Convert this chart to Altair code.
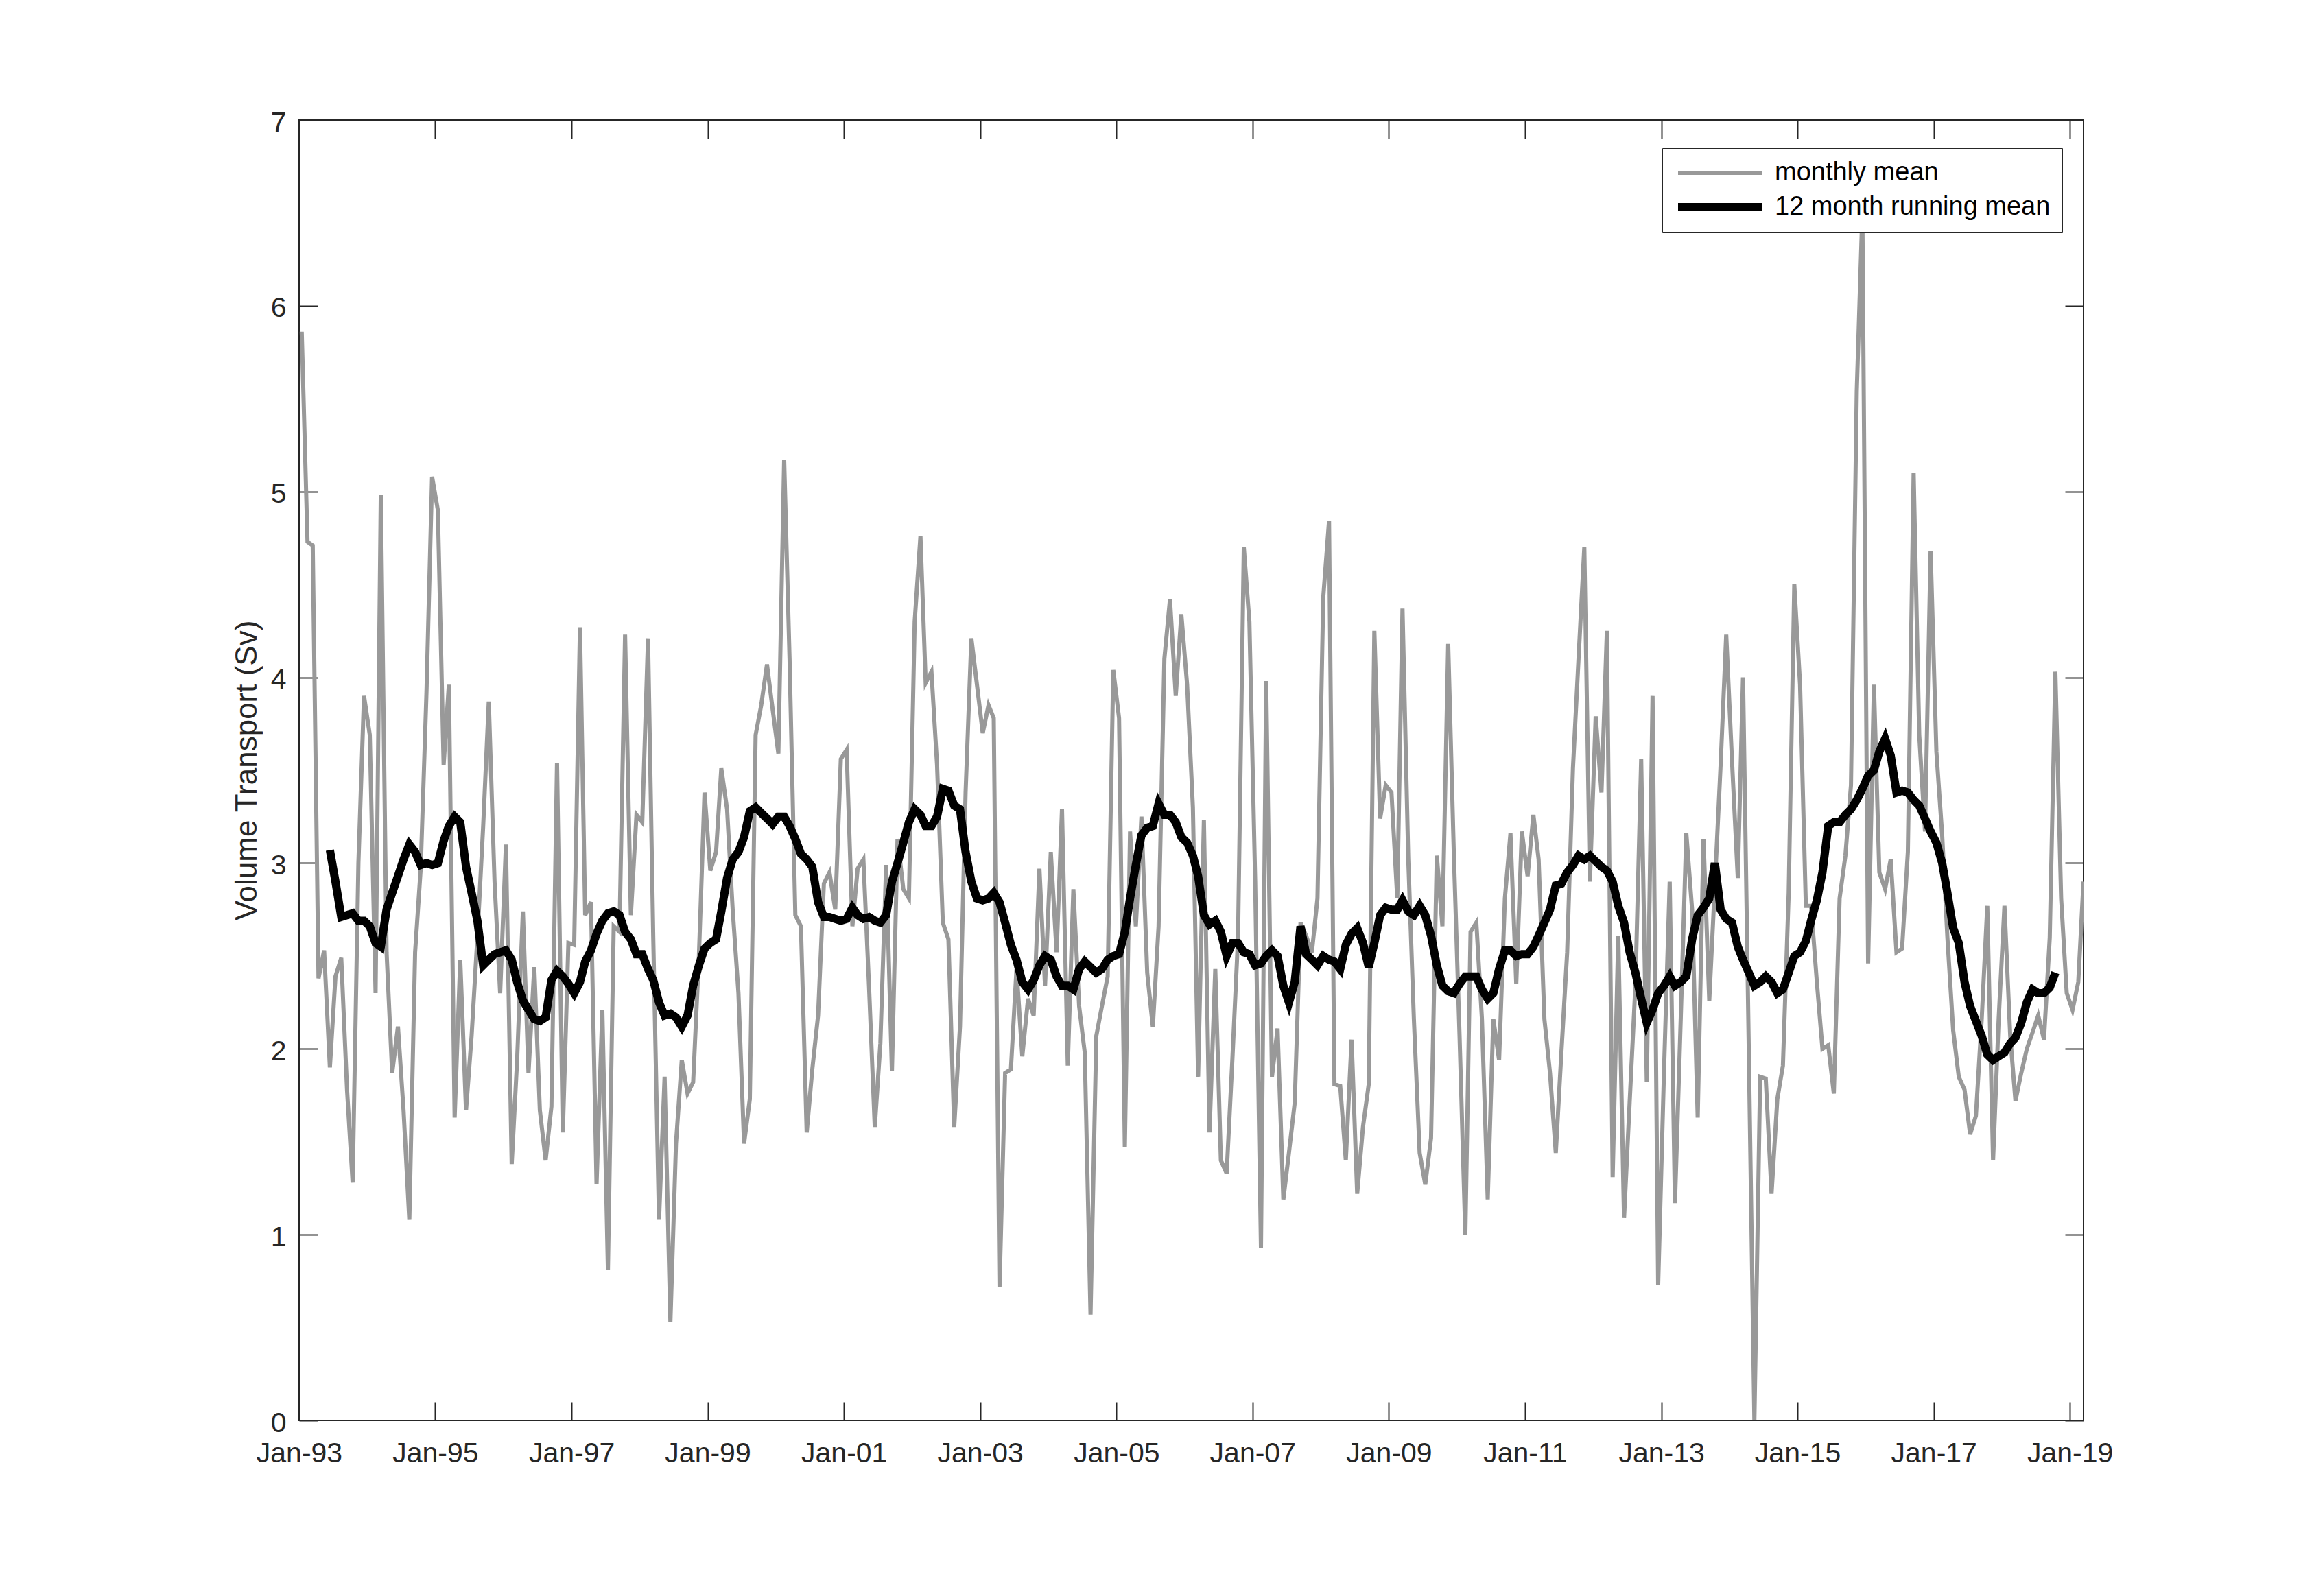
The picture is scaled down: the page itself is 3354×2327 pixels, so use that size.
import altair as alt
import pandas as pd

# ---- data (monthly values, Jan 1993 .. Mar 2019) ----
monthly_mean = [
    5.86, 4.73, 4.71, 2.38, 2.53, 1.90, 2.39, 2.49, 1.78, 1.28, 3.00, 3.90,
    3.69, 2.30, 4.98, 2.52, 1.87, 2.12, 1.67, 1.08, 2.52, 2.97, 3.92, 5.08,
    4.90, 3.53, 3.96, 1.63, 2.48, 1.67, 2.07, 2.60, 3.20, 3.87, 2.90, 2.30,
    3.10, 1.38, 1.94, 2.74, 1.87, 2.44, 1.67, 1.40, 1.69, 3.54, 1.55, 2.57,
    2.56, 4.27, 2.72, 2.79, 1.27, 2.21, 0.81, 2.66, 2.63, 4.23, 2.72, 3.26,
    3.22, 4.21, 2.60, 1.08, 1.85, 0.53, 1.49, 1.94, 1.76, 1.82, 2.50, 3.38,
    2.96, 3.06, 3.51, 3.29, 2.75, 2.30, 1.49, 1.73, 3.69, 3.85, 4.07, 3.83,
    3.59, 5.17, 4.10, 2.72, 2.66, 1.55, 1.89, 2.18, 2.89, 2.95, 2.75, 3.56,
    3.61, 2.66, 2.97, 3.02, 2.34, 1.58, 2.03, 2.99, 1.88, 3.13, 2.86, 2.81,
    4.30, 4.76, 3.97, 4.03, 3.53, 2.68, 2.59, 1.58, 2.12, 3.38, 4.21, 3.96,
    3.70, 3.85, 3.78, 0.72, 1.87, 1.89, 2.43, 1.96, 2.27, 2.18, 2.97, 2.34,
    3.06, 2.52, 3.29, 1.91, 2.86, 2.23, 1.98, 0.57, 2.07, 2.23, 2.39, 4.04,
    3.78, 1.47, 3.17, 2.66, 3.25, 2.41, 2.12, 2.66, 4.10, 4.42, 3.90, 4.34,
    3.96, 3.30, 1.85, 3.23, 1.55, 2.43, 1.40, 1.33, 1.95, 2.60, 4.70, 4.30,
    2.90, 0.93, 3.98, 1.85, 2.11, 1.19, 1.44, 1.71, 2.68, 2.61, 2.52, 2.81,
    4.43, 4.84, 1.81, 1.80, 1.40, 2.05, 1.22, 1.58, 1.81, 4.25, 3.24, 3.42,
    3.38, 2.81, 4.37, 3.02, 2.16, 1.44, 1.27, 1.52, 3.04, 2.66, 4.18, 3.06,
    2.07, 1.00, 2.63, 2.68, 2.16, 1.19, 2.16, 1.94, 2.81, 3.16, 2.35, 3.17,
    2.93, 3.26, 3.02, 2.16, 1.87, 1.44, 1.98, 2.52, 3.51, 4.10, 4.70, 2.90,
    3.79, 3.38, 4.25, 1.31, 2.61, 1.09, 1.71, 2.34, 3.56, 1.82, 3.90, 0.73,
    1.87, 2.90, 1.17, 2.16, 3.16, 2.75, 1.63, 3.13, 2.26, 2.88, 3.53, 4.23,
    3.55, 2.92, 4.00, 2.00, 0.00, 1.85, 1.84, 1.22, 1.73, 1.91, 2.84, 4.50,
    3.96, 2.77, 2.77, 2.36, 2.00, 2.02, 1.76, 2.81, 3.04, 3.42, 5.54, 6.50,
    2.46, 3.96, 2.95, 2.86, 3.02, 2.52, 2.54, 3.06, 5.10, 3.69, 3.17, 4.68,
    3.60, 3.15, 2.60, 2.10, 1.85, 1.78, 1.54, 1.64, 2.16, 2.77, 1.40, 2.16,
    2.77, 2.07, 1.72, 1.87, 2.00, 2.09, 2.18, 2.05, 2.60, 4.03, 2.81, 2.30,
    2.21, 2.36, 2.90,
]

# 12 month running mean, first value at month index 5 (Jun 1993)
running_start = 5
running_mean = [
    3.07, 2.90, 2.71, 2.72, 2.73, 2.69, 2.69,
    2.66, 2.57, 2.55, 2.75, 2.84, 2.93, 3.02, 3.10, 3.06, 2.99, 3.00, 2.99,
    3.00, 3.12, 3.20, 3.25, 3.22, 2.98, 2.84, 2.69, 2.45, 2.48, 2.51, 2.52,
    2.53, 2.48, 2.36, 2.26, 2.21, 2.16, 2.15, 2.17, 2.37, 2.42, 2.39, 2.35,
    2.30, 2.36, 2.47, 2.53, 2.62, 2.69, 2.73, 2.74, 2.72, 2.63, 2.59, 2.51,
    2.51, 2.43, 2.37, 2.25, 2.18, 2.19, 2.17, 2.12, 2.18, 2.34, 2.45, 2.54,
    2.57, 2.59, 2.74, 2.92, 3.02, 3.06, 3.14, 3.28, 3.30, 3.27, 3.24, 3.21,
    3.25, 3.25, 3.20, 3.13, 3.05, 3.02, 2.98, 2.79, 2.71, 2.71, 2.70, 2.69,
    2.70, 2.76, 2.72, 2.70, 2.71, 2.69, 2.68, 2.72, 2.90, 3.00, 3.11, 3.22,
    3.29, 3.26, 3.20, 3.20, 3.25, 3.40, 3.39, 3.31, 3.29, 3.06, 2.90, 2.81,
    2.80, 2.81, 2.84, 2.79, 2.68, 2.56, 2.48, 2.36, 2.32, 2.37, 2.45, 2.50,
    2.48, 2.39, 2.34, 2.34, 2.32, 2.43, 2.47, 2.44, 2.41, 2.43, 2.48, 2.50,
    2.51, 2.63, 2.81, 2.99, 3.15, 3.19, 3.20, 3.32, 3.26, 3.26, 3.22, 3.14,
    3.11, 3.04, 2.93, 2.72, 2.67, 2.69, 2.63, 2.50, 2.57, 2.57, 2.52, 2.51,
    2.45, 2.46, 2.50, 2.53, 2.50, 2.34, 2.25, 2.36, 2.66, 2.51, 2.48, 2.45,
    2.50, 2.48, 2.47, 2.43, 2.56, 2.62, 2.65, 2.57, 2.44, 2.57, 2.72, 2.76,
    2.75, 2.75, 2.80, 2.74, 2.72, 2.77, 2.72, 2.61, 2.45, 2.34, 2.31, 2.30,
    2.35, 2.39, 2.39, 2.39, 2.32, 2.27, 2.30, 2.43, 2.53, 2.53, 2.50, 2.51,
    2.51, 2.55, 2.61, 2.68, 2.75, 2.88, 2.89, 2.95, 2.99, 3.04, 3.02, 3.04,
    3.01, 2.98, 2.96, 2.90, 2.77, 2.68, 2.52, 2.41, 2.27, 2.14, 2.21, 2.30,
    2.34, 2.39, 2.34, 2.36, 2.39, 2.59, 2.72, 2.76, 2.81, 3.00, 2.75, 2.70,
    2.68, 2.55, 2.48, 2.41, 2.34, 2.36, 2.39, 2.36, 2.30, 2.32, 2.41, 2.50,
    2.52, 2.58, 2.69, 2.80, 2.95, 3.20, 3.22, 3.22, 3.26, 3.29, 3.34, 3.40,
    3.47, 3.50, 3.60, 3.67, 3.58, 3.38, 3.39, 3.38, 3.34, 3.31, 3.24, 3.17,
    3.11, 3.00, 2.84, 2.65, 2.57, 2.36, 2.23, 2.15, 2.07, 1.97, 1.94, 1.96,
    1.98, 2.03, 2.06, 2.14, 2.25, 2.32, 2.30, 2.30, 2.33, 2.41,
]

series_names = ["monthly mean", "12 month running mean"]
series_colors = ["#999999", "#000000"]
series_widths = [6, 12]
x_tick_years = list(range(1993, 2020, 2))
y_ticks = [0, 1, 2, 3, 4, 5, 6, 7]
y_title = "Volume Transport (Sv)"

FONT = "Liberation Sans"
AXC = "#262626"
TICK = 27

dates = (pd.date_range("1993-01-01", periods=len(monthly_mean), freq="MS")
         + pd.Timedelta(days=14)).strftime("%Y-%m-%d")

gray_df = pd.DataFrame({"date": list(dates), "value": monthly_mean,
                        "series": series_names[0]})
black_df = pd.DataFrame({"date": list(dates[running_start:running_start + len(running_mean)]),
                         "value": running_mean, "series": series_names[1]})

x_scale = alt.Scale(type="utc", domain=[alt.DateTime(year=1993, month=1, date=1, utc=True),
                                        alt.DateTime(year=2019, month=3, date=15, utc=True)])
y_scale = alt.Scale(domain=[0, 7], nice=False, zero=False)
x_vals = [alt.DateTime(year=y, month=1, date=1, utc=True) for y in x_tick_years]

legend = alt.Legend(title=None, orient="none", legendX=1987, legendY=41,
                    symbolType="stroke", symbolSize=14884, clipHeight=38,
                    labelFontSize=38, labelFont=FONT, labelColor="#000000",
                    labelOffset=13, fillColor="white", strokeColor=AXC,
                    padding=17, rowPadding=12, labelLimit=0)
color = alt.Color("series:N", scale=alt.Scale(domain=series_names, range=series_colors),
                  legend=legend)
swidth = alt.StrokeWidth("series:N", scale=alt.Scale(domain=series_names, range=series_widths),
                         legend=legend)

gray = alt.Chart(gray_df).mark_line(clip=True).encode(
    x=alt.X("date:T", scale=x_scale,
            axis=alt.Axis(orient="bottom", values=x_vals,
                          labelExpr="utcFormat(datum.value, '%b-%y')",
                          labelFont=FONT, labelFontSize=41, labelColor=AXC,
                          labelPadding=28, labelFlush=False, labelOverlap=False,
                          ticks=True, tickSize=TICK, tickColor=AXC, tickWidth=2,
                          offset=-TICK, domain=False, grid=False, title=None)),
    y=alt.Y("value:Q", scale=y_scale,
            axis=alt.Axis(orient="left", values=y_ticks, format="d",
                          labelFont=FONT, labelFontSize=41, labelColor=AXC,
                          labelPadding=19, labelOffset=4,
                          ticks=True, tickSize=TICK, tickColor=AXC, tickWidth=2,
                          offset=-TICK, domain=False, grid=False,
                          title=y_title, titleFont=FONT, titleFontSize=44,
                          titleFontWeight="normal", titleColor=AXC, titlePadding=12)),
    color=color,
    strokeWidth=swidth,
)

black = alt.Chart(black_df).mark_line(clip=True).encode(
    x=alt.X("date:T", scale=x_scale,
            axis=alt.Axis(orient="top", values=x_vals, labels=False,
                          ticks=True, tickSize=TICK, tickColor=AXC, tickWidth=2,
                          offset=-TICK, domain=False, grid=False, title=None)),
    y=alt.Y("value:Q", scale=y_scale,
            axis=alt.Axis(orient="right", values=y_ticks, labels=False,
                          ticks=True, tickSize=TICK, tickColor=AXC, tickWidth=2,
                          offset=-TICK, domain=False, grid=False, title=None)),
    color=color,
    strokeWidth=swidth,
)

chart = alt.layer(gray, black).resolve_axis(x="independent", y="independent").properties(
    width=2601, height=1896,
    autosize=alt.AutoSizeParams(type="none"),
    padding={"left": 428, "top": 167, "right": 300, "bottom": 240},
    background="white",
).configure_view(stroke=AXC, strokeWidth=2)

chart.save("out.html", embed_options={"renderer": "svg", "actions": False})
